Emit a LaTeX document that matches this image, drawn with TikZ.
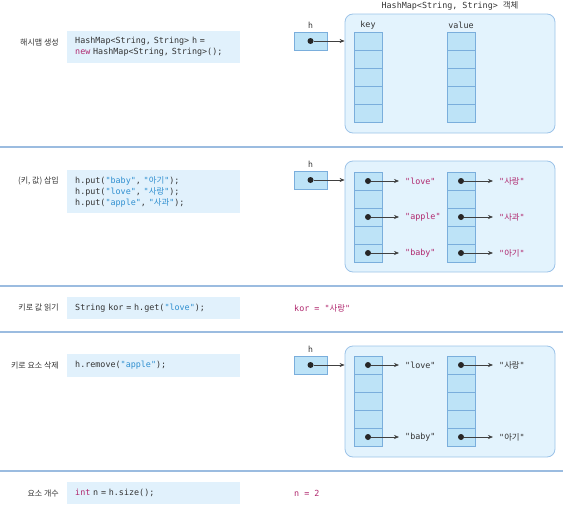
\documentclass[tikz,border=0pt]{standalone}
\usepackage{fontspec}
\setmonofont{DejaVu Sans Mono}
\newfontfamily\korfont{Noto Sans CJK KR}
\usetikzlibrary{positioning,arrows.meta}

\definecolor{codebg}{HTML}{E1F1FC}
\definecolor{objbg}{HTML}{E3F3FD}
\definecolor{objline}{HTML}{9CC3E8}
\definecolor{cellbg}{HTML}{BDE3F7}
\definecolor{cellline}{HTML}{7AAEDC}
\definecolor{keymag}{HTML}{B0286E}
\definecolor{strblue}{HTML}{2F8FD0}
\definecolor{sepline}{HTML}{9BBCE0}
\definecolor{textgray}{HTML}{333333}

\newcommand{\ko}[1]{{\korfont #1}}
\newcommand{\strB}[1]{\textcolor{strblue}{#1}}
\newcommand{\kw}[1]{\textcolor{keymag}{#1}}
\newcommand{\codefont}{\ttfamily\fontsize{8.4}{11}\selectfont}
\newcommand{\labfont}{\korfont\fontsize{8}{10}\selectfont}

\begin{document}
\begin{tikzpicture}[x=1pt, y=-1pt,
    every node/.style={text=textgray},
    steplabel/.style={anchor=east, font=\labfont, inner sep=0pt},
    codebox/.style={anchor=west, fill=codebg, text width=157pt, inner xsep=8pt,
        inner ysep=3pt, align=left, font=\codefont},
    hbox/.style={draw=cellline, fill=cellbg, minimum width=33pt, minimum height=18pt,
        inner sep=0pt, line width=0.8pt},
    obj/.style={draw=objline, fill=objbg, rounded corners=8pt, minimum width=210pt,
        inner sep=0pt, line width=0.8pt},
    cell/.style={draw=cellline, fill=cellbg, minimum width=28pt, minimum height=18pt,
        inner sep=0pt, line width=0.8pt},
    dot/.style={circle, fill=black!85, minimum size=6pt, inner sep=0pt},
    ptr/.style={-{Stealth[length=5pt,width=4pt]}, black!75, line width=0.6pt},
    entry/.style={anchor=west, inner xsep=6pt, inner ysep=0pt, font=\codefont},
    result/.style={anchor=west, inner sep=0pt, font=\codefont, text=keymag},
    sep/.style={draw=sepline, line width=1.2pt}]
    \useasboundingbox (0,0) rectangle (568,506);

    % separators
    \draw[sep] (0,147) -- (563,147);
    \draw[sep] (0,286) -- (563,286);
    \draw[sep] (0,332) -- (563,332);
    \draw[sep] (0,471) -- (563,471);

    % 1: create
    \node[steplabel] (l1) at (59,43) {해시맵 생성};
    \node[codebox, minimum height=32pt] (c1) at (67,47)
        {HashMap<String, String> h =\\\kw{new} HashMap<String, String>();};
    \node[obj, minimum height=119pt] (obj1) at (450,73.5) {};
    \node (tt1) at (450,6) {\codefont HashMap<String, String> \ko{객체}};
    \node (kh1) at (368,25) {\codefont key};
    \node (vh1) at (461,25) {\codefont value};
    \foreach \i in {0,...,4} {
        \node[cell] (k1\i) at (368,41+18*\i) {};
        \node[cell] (v1\i) at (461,41+18*\i) {};
    }
    \node (ht1) at (310.5,25) {\labfont h};
    \node[hbox] (hb1) at (310.5,41) {};
    \node[dot] (hd1) at (hb1.center) {};
    \draw[ptr] (hd1) -- (hd1 -| obj1.west);

    % 2: put
    \node[steplabel] (l2) at (59,181) {(키, 값) 삽입};
    \node[codebox, minimum height=43pt] (c2) at (67,191.5)
        {h.put(\strB{"baby"}, \strB{"\ko{아기}"});\\
         h.put(\strB{"love"}, \strB{"\ko{사랑}"});\\
         h.put(\strB{"apple"}, \strB{"\ko{사과}"});};
    \node[obj, minimum height=111pt] (obj2) at (450,216.5) {};
    \foreach \i in {0,...,4} {
        \node[cell] (k2\i) at (368,181+18*\i) {};
        \node[cell] (v2\i) at (461,181+18*\i) {};
    }
    \node (ht2) at (310.5,164) {\labfont h};
    \node[hbox] (hb2) at (310.5,180) {};
    \node[dot] (hd2) at (hb2.center) {};
    \draw[ptr] (hd2) -- (hd2 -| obj2.west);
    \foreach \i/\kt/\vt in {0/love/사랑, 2/apple/사과, 4/baby/아기} {
        \node[dot] (kd2\i) at (k2\i) {};
        \node[dot] (vd2\i) at (v2\i) {};
        \node[entry, text=keymag] (ke2\i) at (399,181+18*\i) {"\kt"};
        \node[entry, text=keymag] (ve2\i) at (493,181+18*\i) {"\ko{\vt}"};
        \draw[ptr] (kd2\i) -- (ke2\i);
        \draw[ptr] (vd2\i) -- (ve2\i);
    }

    % 3: get
    \node[steplabel] (l3) at (59,308) {키로 값 읽기};
    \node[codebox, minimum height=22pt] (c3) at (67,308)
        {String kor = h.get(\strB{"love"});};
    \node[result] (r3) at (294,308) {kor = "\ko{사랑}"};

    % 4: remove
    \node[steplabel] (l4) at (59,365.5) {키로 요소 삭제};
    \node[codebox, minimum height=23pt] (c4) at (67,365.5)
        {h.remove(\strB{"apple"});};
    \node[obj, minimum height=111pt] (obj4) at (450,401.5) {};
    \foreach \i in {0,...,4} {
        \node[cell] (k4\i) at (368,365+18*\i) {};
        \node[cell] (v4\i) at (461,365+18*\i) {};
    }
    \node (ht4) at (310.5,349) {\labfont h};
    \node[hbox] (hb4) at (310.5,365) {};
    \node[dot] (hd4) at (hb4.center) {};
    \draw[ptr] (hd4) -- (hd4 -| obj4.west);
    \foreach \i/\kt/\vt in {0/love/사랑, 4/baby/아기} {
        \node[dot] (kd4\i) at (k4\i) {};
        \node[dot] (vd4\i) at (v4\i) {};
        \node[entry] (ke4\i) at (399,365+18*\i) {"\kt"};
        \node[entry] (ve4\i) at (493,365+18*\i) {"\ko{\vt}"};
        \draw[ptr] (kd4\i) -- (ke4\i);
        \draw[ptr] (vd4\i) -- (ve4\i);
    }

    % 5: size
    \node[steplabel] (l5) at (59,493) {요소 개수};
    \node[codebox, minimum height=22pt] (c5) at (67,493)
        {\kw{int} n = h.size();};
    \node[result] (r5) at (294,493) {n = 2};
\end{tikzpicture}
\end{document}
